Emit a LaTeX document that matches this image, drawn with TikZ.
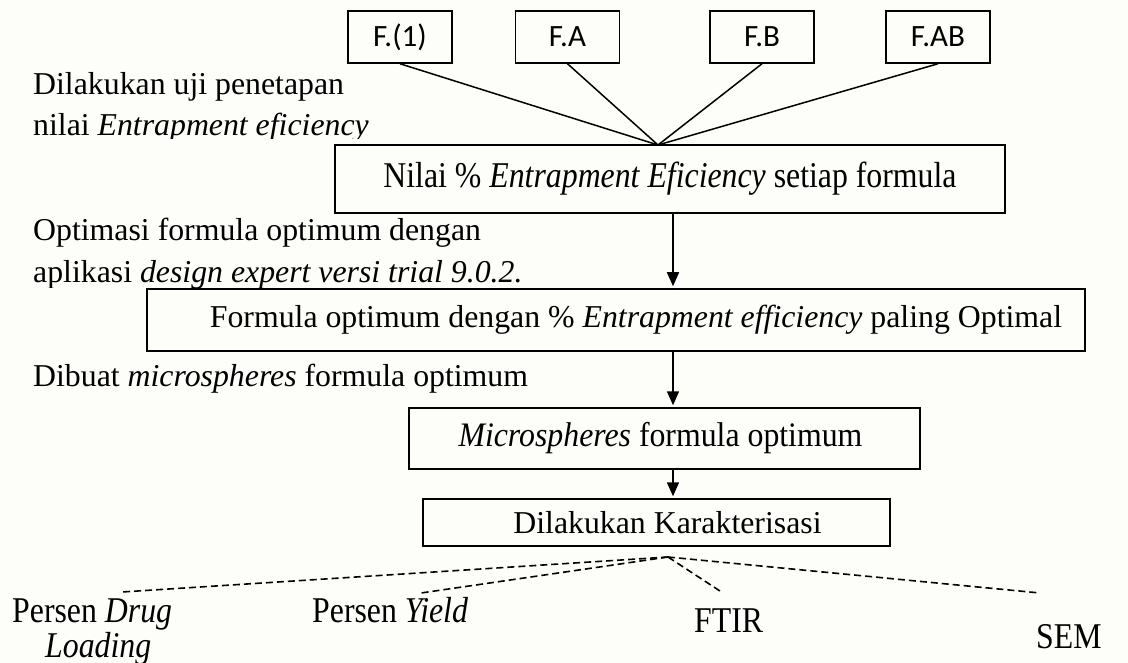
\documentclass[tikz,border=0pt]{standalone}
\usepackage{fontspec}
\setmainfont{Liberation Serif}
\newfontfamily\calib{Carlito}
\usetikzlibrary{arrows.meta}
\definecolor{bgcol}{RGB}{253,253,249}
\newcommand{\tallx}[1]{\scalebox{1}[1.14]{#1}}
\newcommand{\tally}[1]{\scalebox{1}[1.08]{#1}}
\begin{document}
\begin{tikzpicture}[x=1pt,y=-1pt,
  txt/.style={font=\fontsize{31.8}{38}\selectfont},
  box/.style={draw,line width=1.5pt,inner sep=0pt,txt},
  fbox/.style={draw,line width=1.5pt,inner sep=0pt,minimum width=104pt,minimum height=52pt,font=\calib\fontsize{31}{37}\selectfont},
  lbl/.style={anchor=base west,inner sep=0pt,txt},
  conn/.style={line width=1.5pt},
  arr/.style={line width=1.5pt,shorten >=2pt,-{Triangle[length=14pt,width=12pt]}},
  dsh/.style={line width=1.6pt,dash pattern=on 7pt off 4pt}]
\useasboundingbox (0,0) rectangle (1128,663);
\fill[bgcol] (0,0) rectangle (1128,663);
\clip (0,0) rectangle (1128,663);

% top formula boxes
\node[fbox] (f1)  at (400,37)   {F.(1)};
\node[fbox] (fa)  at (567.5,37) {F.A};
\node[fbox] (fb)  at (762,37)   {F.B};
\node[fbox] (fab) at (938,37)   {F.AB};

% main boxes
\node[box,minimum width=670pt,minimum height=68pt] (nilai) at (670,179)
  {\tallx{Nilai \% \textit{Entrapment Eficiency} setiap formula}};
\node[box,minimum width=938pt,minimum height=62pt] (formula) at (616,320)
  {\hspace*{40pt}Formula optimum dengan \% \textit{Entrapment efficiency} paling Optimal};
\node[box,minimum width=511pt,minimum height=61pt] (micro) at (664.5,438.5)
  {\tally{\textit{Microspheres} formula optimum}\hspace*{8pt}};
\node[box,minimum width=467pt,minimum height=47pt] (karak) at (656.5,522.5)
  {\hspace*{22pt}Dilakukan Karakterisasi};

% side labels
\node[lbl] (l1a) at (33,95) {Dilakukan uji penetapan};
\begin{scope}
  \clip (0,100) rectangle (600,139);
  \node[lbl] (l1b) at (33,136) {nilai \textit{Entrapment eficiency}};
\end{scope}
\node[lbl] (l2a) at (33,241) {Optimasi formula optimum dengan};
\begin{scope}
  \clip (0,250) rectangle (600,288);
  \node[lbl] (l2b) at (33,283) {aplikasi \textit{design expert versi trial 9.0.2.}};
\end{scope}
\node[lbl] (l3) at (33,386) {Dibuat \textit{microspheres} formula optimum};

% converging lines
\coordinate (cv) at (658,145);
\foreach \n in {f1,fa,fb,fab} \draw[conn] (\n.south) -- (cv);

% arrows
\coordinate (ax) at (673,0);
\draw[arr] (nilai.south -| ax) -- (formula.north -| ax);
\draw[arr] (formula.south -| ax) -- (micro.north -| ax);
\draw[arr] (micro.south -| ax) -- (karak.north -| ax);

% characterisation
\coordinate (dk) at (668,557);
\coordinate (e1) at (122,592);
\coordinate (e2) at (421,593);
\coordinate (e3) at (723,593);
\coordinate (e4) at (1040,593);
\foreach \e in {e1,e2,e3,e4} \draw[dsh] (dk) -- (\e);

\node[lbl] (b1a) at (12,622) {\tallx{Persen \textit{Drug}}};
\node[lbl] (b1b) at (45,657) {\tallx{\textit{Loading}}};
\node[lbl] (b2) at (312,622) {\tallx{Persen \textit{Yield}}};
\node[lbl] (b3) at (694,632) {\tallx{FTIR}};
\node[lbl] (b4) at (1036,648) {\tallx{SEM}};
\end{tikzpicture}
\end{document}
